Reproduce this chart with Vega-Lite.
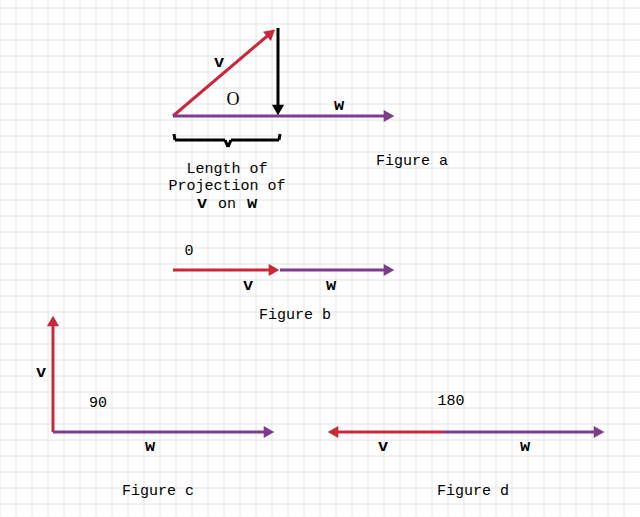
{
"$schema":"https://vega.github.io/schema/vega-lite/v6.json",
"width":640,"height":517,"padding":0,"autosize":{"type":"none"},
"background":"white",
"config":{"view":{"stroke":null}},
"datasets":{
"gx":[{"g":0},{"g":16},{"g":32},{"g":48},{"g":64},{"g":80},{"g":96},{"g":112},{"g":128},{"g":144},{"g":160},{"g":176},{"g":192},{"g":208},{"g":224},{"g":240},{"g":256},{"g":272},{"g":288},{"g":304},{"g":320},{"g":336},{"g":352},{"g":368},{"g":384},{"g":400},{"g":416},{"g":432},{"g":448},{"g":464},{"g":480},{"g":496},{"g":512},{"g":528},{"g":544},{"g":560},{"g":576},{"g":592},{"g":608},{"g":624}],
"gy":[{"g":8},{"g":24},{"g":40},{"g":56},{"g":72},{"g":88},{"g":104},{"g":120},{"g":136},{"g":152},{"g":168},{"g":184},{"g":200},{"g":216},{"g":232},{"g":248},{"g":264},{"g":280},{"g":296},{"g":312},{"g":328},{"g":344},{"g":360},{"g":376},{"g":392},{"g":408},{"g":424},{"g":440},{"g":456},{"g":472},{"g":488},{"g":504}],
"seg":[
{"vec":"v","x":173,"y":116,"x2":272,"y2":32},
{"vec":"p","x":278,"y":28,"x2":278,"y2":110},
{"vec":"w","x":173,"y":116,"x2":390,"y2":116},
{"vec":"v","x":173,"y":270,"x2":276,"y2":270},
{"vec":"w","x":280,"y":270,"x2":390,"y2":270},
{"vec":"v","x":53,"y":432,"x2":53,"y2":320},
{"vec":"w","x":53,"y":432,"x2":270,"y2":432},
{"vec":"v","x":443,"y":432,"x2":332,"y2":432},
{"vec":"w","x":443,"y":432,"x2":600,"y2":432},
{"vec":"b","x":175,"y":140,"x2":225,"y2":140},
{"vec":"b","x":231,"y":140,"x2":279,"y2":140},
{"vec":"b","x":175,"y":140,"x2":174,"y2":134},
{"vec":"b","x":279,"y":140,"x2":280,"y2":134},
{"vec":"b","x":225,"y":140,"x2":228,"y2":147},
{"vec":"b","x":231,"y":140,"x2":228,"y2":147}
],
"heads":[
{"vec":"v","x":271,"y":33,"angle":50},
{"vec":"p","x":278,"y":110,"angle":180},
{"vec":"w","x":389,"y":116,"angle":90},
{"vec":"v","x":274,"y":270,"angle":90},
{"vec":"w","x":389,"y":270,"angle":90},
{"vec":"v","x":53,"y":321,"angle":0},
{"vec":"w","x":269,"y":432,"angle":90},
{"vec":"v","x":333,"y":432,"angle":270},
{"vec":"w","x":599,"y":432,"angle":90}
],
"texts":[
{"role":"vec","x":219,"y":62,"label":"v"},
{"role":"serif","x":233,"y":100,"label":"O"},
{"role":"vec","x":339,"y":105,"label":"w"},
{"role":"cap","x":412,"y":160,"label":"Figure a"},
{"role":"cap","x":227,"y":168,"label":"Length of"},
{"role":"cap","x":227,"y":185,"label":"Projection of"},
{"role":"vec","x":202,"y":203,"label":"v"},
{"role":"cap","x":227,"y":203,"label":"on"},
{"role":"vec","x":252,"y":203,"label":"w"},
{"role":"cap","x":189,"y":250,"label":"0"},
{"role":"vec","x":248,"y":285,"label":"v"},
{"role":"vec","x":331,"y":285,"label":"w"},
{"role":"cap","x":295,"y":314,"label":"Figure b"},
{"role":"vec","x":41,"y":372,"label":"v"},
{"role":"cap","x":98,"y":402,"label":"90"},
{"role":"vec","x":150,"y":446,"label":"w"},
{"role":"cap","x":158,"y":490,"label":"Figure c"},
{"role":"cap","x":451,"y":400,"label":"180"},
{"role":"vec","x":383,"y":446,"label":"v"},
{"role":"vec","x":525,"y":446,"label":"w"},
{"role":"cap","x":473,"y":490,"label":"Figure d"}
]},
"layer":[
{"data":{"name":"gx"},"mark":{"type":"rule","color":"#e4e4e4","strokeWidth":1},
"encoding":{"x":{"field":"g","type":"quantitative","scale":{"domain":[0,640],"nice":false},"axis":null}}},
{"data":{"name":"gy"},"mark":{"type":"rule","color":"#e4e4e4","strokeWidth":1},
"encoding":{"y":{"field":"g","type":"quantitative","scale":{"domain":[0,517],"nice":false,"reverse":true},"axis":null}}},
{"data":{"name":"seg"},"mark":{"type":"rule","strokeWidth":3},
"encoding":{
"x":{"field":"x","type":"quantitative"},
"y":{"field":"y","type":"quantitative"},
"x2":{"field":"x2"},"y2":{"field":"y2"},
"color":{"field":"vec","type":"nominal","scale":{"domain":["v","w","p","b"],"range":["#c9283a","#7d3c8e","#000000","#000000"]},"legend":null},
"strokeWidth":{"field":"vec","type":"nominal","scale":{"domain":["v","w","p","b"],"range":[3,3,1.2,1.2]},"legend":null}}},
{"data":{"name":"heads"},"mark":{"type":"point","shape":"triangle-up","filled":true,"opacity":1,"size":150},
"encoding":{"x":{"field":"x","type":"quantitative"},"y":{"field":"y","type":"quantitative"},
"angle":{"field":"angle","type":"quantitative","scale":null},
"size":{"field":"vec","type":"nominal","scale":{"domain":["v","w","p"],"range":[150,150,60]},"legend":null},
"color":{"field":"vec","type":"nominal","legend":null}}},
{"data":{"name":"texts"},"transform":[{"filter":"datum.role=='cap'"}],"mark":{"type":"text","font":"Liberation Mono","fontSize":15,"color":"black"},
"encoding":{"x":{"field":"x","type":"quantitative"},"y":{"field":"y","type":"quantitative"},"text":{"field":"label"}}},
{"data":{"name":"texts"},"transform":[{"filter":"datum.role=='vec'"}],"mark":{"type":"text","font":"Liberation Mono","fontSize":17,"fontWeight":"bold","color":"black"},
"encoding":{"x":{"field":"x","type":"quantitative"},"y":{"field":"y","type":"quantitative"},"text":{"field":"label"}}},
{"data":{"name":"texts"},"transform":[{"filter":"datum.role=='serif'"}],"mark":{"type":"text","font":"Liberation Serif","fontSize":18,"color":"black"},
"encoding":{"x":{"field":"x","type":"quantitative"},"y":{"field":"y","type":"quantitative"},"text":{"field":"label"}}}
]}
